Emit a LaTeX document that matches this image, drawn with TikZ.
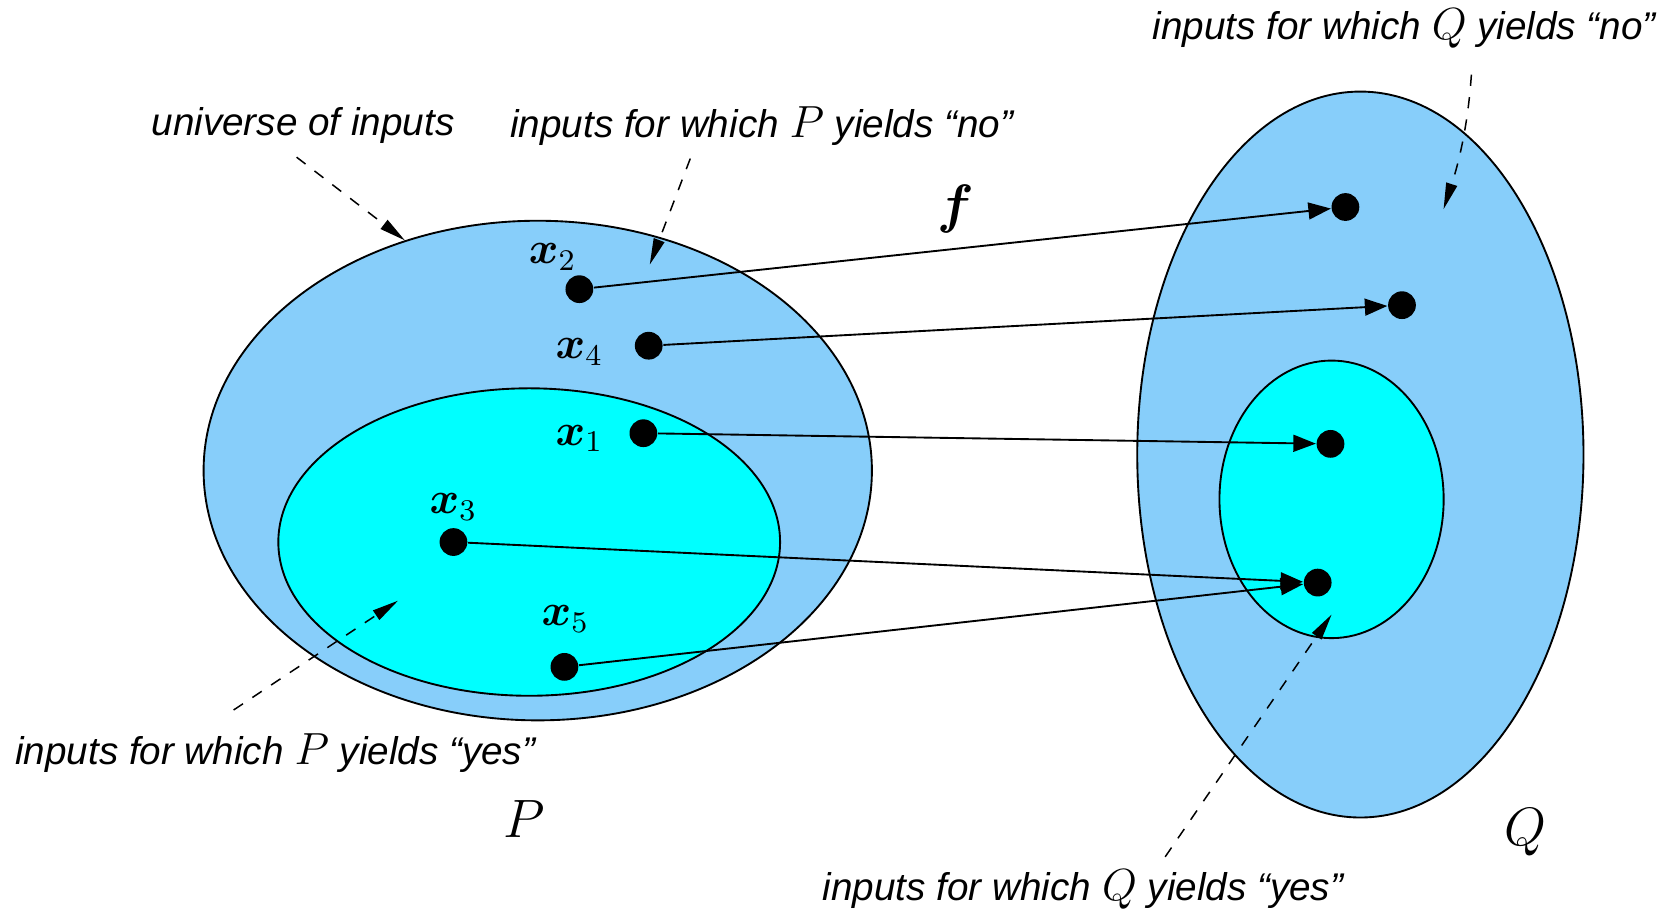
\documentclass[tikz,border=0pt]{standalone}
\usepackage{amssymb}
\usepackage{amsmath}
\usepackage{fontspec}
\usepackage{tikz}
\usetikzlibrary{arrows.meta}
\usetikzlibrary{shapes.geometric}
\usepackage{xcolor}
\definecolor{noblue}{RGB}{135,206,250}
\definecolor{yescyan}{RGB}{0,255,255}
\newfontfamily\lblfont{Liberation Sans}
\newcommand{\inputsfor}[2]{inputs for which {\large$#1$} yields “#2”}
\newcommand{\xin}[1]{\boldsymbol{x}_{#1}}

\begin{document}
\begin{tikzpicture}[x=0.01cm,y=-0.01cm,
  lbl/.style={font=\lblfont\itshape\fontsize{10.3}{12}\selectfont},
  blob/.style={ellipse,draw,line width=0.5pt,inner sep=0pt},
  pt/.style={circle,fill=black,inner sep=0pt,minimum size=0.26cm},
  map/.style={-{Triangle[length=6pt,width=4.5pt]},line width=0.5pt},
  hint/.style={-{Triangle[length=7pt,width=3pt]},dashed,line width=0.4pt}]
\useasboundingbox (0,0) rectangle (1568,859);
\node[blob,fill=noblue,minimum width=6.26cm,minimum height=4.68cm] (Pall) at (504,441) {};
\node[blob,fill=yescyan,minimum width=4.7cm,minimum height=2.88cm] (Pyes) at (496,508) {};
\node[blob,fill=noblue,minimum width=4.18cm,minimum height=6.8cm] (Qall) at (1275,426) {};
\node[blob,fill=yescyan,minimum width=2.1cm,minimum height=2.6cm] (Qyes) at (1248,468) {};
\node[pt] (x2) at (543,271) {};
\node[pt] (x4) at (608,324) {};
\node[pt] (x1) at (603,406) {};
\node[pt] (x3) at (425,508) {};
\node[pt] (x5) at (529,625) {};
\node[pt] (fx2) at (1261,194) {};
\node[pt] (fx4) at (1314,286) {};
\node[pt] (fx1) at (1247,416) {};
\node[pt] (fx35) at (1235,546) {};
\node[font=\large] (lx2) at (518,241) {$\xin{2}$};
\node[font=\large] (lx4) at (543,330) {$\xin{4}$};
\node[font=\large] (lx1) at (543,411) {$\xin{1}$};
\node[font=\large] (lx3) at (425,475) {$\xin{3}$};
\node[font=\large] (lx5) at (530,580) {$\xin{5}$};
\node[font=\Large] (lf) at (896,196) {$\boldsymbol{f}$};
\node[font=\Large] (lP) at (491,768) {$P$};
\node[font=\Large] (lQ) at (1430,780) {$Q$};
\draw[map] (x2) -- (fx2);
\draw[map] (x4) -- (fx4);
\draw[map] (x1) -- (fx1);
\draw[map] (x3) -- (fx35);
\draw[map] (x5) -- (fx35);
\node[lbl] (tUniv) at (284,118) {universe of inputs};
\node[lbl] (tPno) at (714,118) {\inputsfor{P}{no}};
\node[lbl] (tQno) at (1316,27) {\inputsfor{Q}{no}};
\node[lbl] (tPyes) at (258,706) {\inputsfor{P}{yes}};
\node[lbl] (tQyes) at (1015,834) {\inputsfor{Q}{yes}};
\coordinate (pnoTip) at (609,248);
\coordinate (qnoTip) at (1353,196);
\coordinate (pyesTip) at (373,563);
\coordinate (qyesTip) at (1248,576);
\draw[hint] ([xshift=-0.06cm]tUniv.south) -- (Pall.120);
\draw[hint] ([xshift=-0.67cm]tPno.south) -- (pnoTip);
\draw[hint] ([xshift=0.63cm,yshift=-0.12cm]tQno.south) .. controls (1376,115) and (1368,150) .. (qnoTip);
\draw[hint] ([xshift=-0.39cm,yshift=0.1cm]tPyes.north) -- (pyesTip);
\draw[hint] ([xshift=0.77cm]tQyes.north) -- (qyesTip);
\end{tikzpicture}
\end{document}
